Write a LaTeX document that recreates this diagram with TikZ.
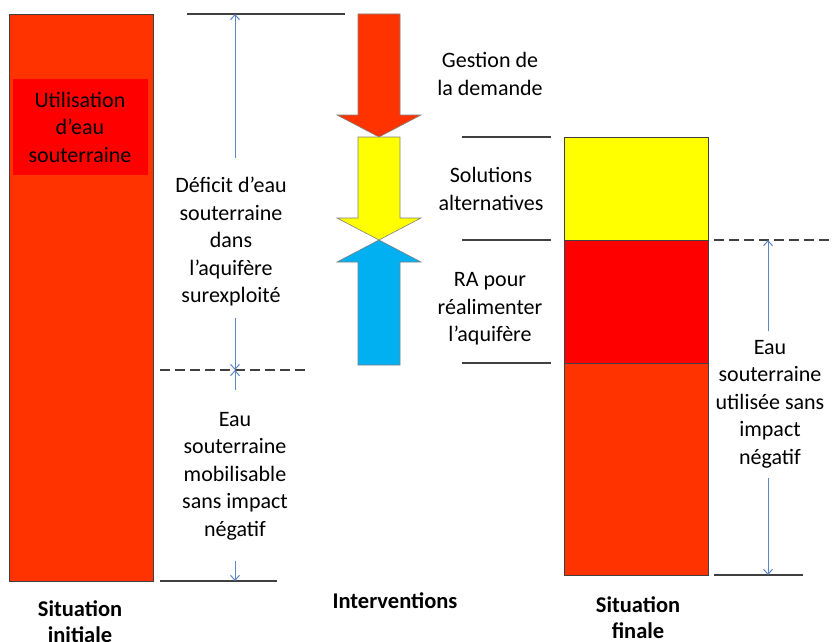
\documentclass[tikz,border=0pt]{standalone}
\usepackage{fontspec}
\setmainfont{Carlito}
\usetikzlibrary{arrows.meta}

\definecolor{hotorange}{HTML}{FF3300}
\definecolor{pure red}{HTML}{FF0000}
\definecolor{pure yellow}{HTML}{FFFF00}
\definecolor{skyblue}{HTML}{00B0F0}
\definecolor{dimblue}{HTML}{5B87C4}
\definecolor{edgegray}{HTML}{404040}
\definecolor{arrowgray}{HTML}{808080}

\tikzset{
  bar/.style={draw=edgegray, line width=0.9pt, inner sep=0pt, anchor=north west},
  label/.style={align=center, inner sep=0pt, font=\fontsize{22}{27.5}\selectfont},
  title/.style={align=center, inner sep=0pt, font=\bfseries\fontsize{22.5}{26}\selectfont},
  guide/.style={draw=edgegray, line width=1.1pt},
  dashguide/.style={guide, dash pattern=on 10pt off 5pt},
  dim/.style={draw=dimblue, line width=1pt, -{Straight Barb[length=5pt,width=9pt,line width=1pt]}},
  bigarrow/.style={draw=arrowgray, line width=0.6pt, line join=miter},
}

\begin{document}
\begin{tikzpicture}[x=1pt, y=-1pt]
\useasboundingbox (0,0) rectangle (838,642);

% initial situation column
\node[bar, fill=hotorange, minimum width=144pt, minimum height=567pt] (initial) at (9,14) {};
\node[fill=pure red, inner sep=0pt, minimum width=135pt, minimum height=96pt, anchor=north west] (usebox) at (13,79) {};
\node[label] (usetext) at (80,127) {Utilisation\\d’eau\\souterraine};

% guides and dimensions of the initial situation
\coordinate (topL) at (187,14);  \coordinate (topR) at (345,14);
\coordinate (midL) at (160,370); \coordinate (midR) at (305,370);
\coordinate (botL) at (160,581); \coordinate (botR) at (277,581);
\draw[guide] (topL) -- (topR);
\draw[dashguide] (midL) -- (midR);
\draw[guide] (botL) -- (botR);

\node[label] (deficit) at (231,242) {Déficit d’eau\\souterraine\\dans\\l’aquifère\\surexploité};
\node[label] (mobil) at (235,476) {Eau\\souterraine\\mobilisable\\sans impact\\négatif};

\coordinate (a1s) at (235,158); \coordinate (a1e) at (235,14);
\coordinate (a2s) at (235,318); \coordinate (a2e) at (235,370);
\coordinate (a3s) at (235,390); \coordinate (a3e) at (235,370);
\coordinate (a4s) at (235,561); \coordinate (a4e) at (235,581);
\draw[dim] (a1s) -- (a1e);
\draw[dim] (a2s) -- (a2e);
\draw[dim] (a3s) -- (a3e);
\draw[dim] (a4s) -- (a4e);

% interventions: three block arrows
\draw[bigarrow, fill=hotorange] (358,14) -- (400,14) -- (400,115) -- (421,115) -- (379,137) -- (337,115) -- (358,115) -- cycle;
\draw[bigarrow, fill=pure yellow] (358,137) -- (400,137) -- (400,218) -- (421,218) -- (379,240) -- (337,218) -- (358,218) -- cycle;
\draw[bigarrow, fill=skyblue] (379,240) -- (421,262) -- (400,262) -- (400,365) -- (358,365) -- (358,262) -- (337,262) -- cycle;

\node[label] (demand) at (490,74) {Gestion de\\la demande};
\node[label] (altern) at (491,189) {Solutions\\alternatives};
\node[label] (recharge) at (490,309) {RA pour\\réalimenter\\l’aquifère};

\coordinate (s1L) at (462,137); \coordinate (s1R) at (551,137);
\coordinate (s2L) at (462,240); \coordinate (s2R) at (551,240);
\coordinate (s3L) at (462,363); \coordinate (s3R) at (551,363);
\draw[guide] (s1L) -- (s1R);
\draw[guide] (s2L) -- (s2R);
\draw[guide] (s3L) -- (s3R);

% final situation column
\node[bar, fill=pure yellow, minimum width=144pt, minimum height=103pt] (finalA) at (564,137) {};
\node[bar, fill=pure red, minimum width=144pt, minimum height=123pt] (finalB) at (564,240) {};
\node[bar, fill=hotorange, minimum width=144pt, minimum height=212pt] (finalC) at (564,363) {};

\coordinate (rdL) at (714,240); \coordinate (rdR) at (832,240);
\coordinate (rbL) at (714,575); \coordinate (rbR) at (803,575);
\draw[dashguide] (rdL) -- (rdR);
\draw[guide] (rbL) -- (rbR);

\node[label] (safeuse) at (770,404) {Eau\\souterraine\\utilisée sans\\impact\\négatif};
\coordinate (b1s) at (768,331); \coordinate (b1e) at (768,240);
\coordinate (b2s) at (768,478); \coordinate (b2e) at (768,575);
\draw[dim] (b1s) -- (b1e);
\draw[dim] (b2s) -- (b2e);

% column titles
\node[title] (tinit) at (80,622) {Situation\\initiale};
\node[title] (tinter) at (395,601) {Interventions};
\node[title] (tfinal) at (638,618) {Situation\\finale};
\end{tikzpicture}
\end{document}
